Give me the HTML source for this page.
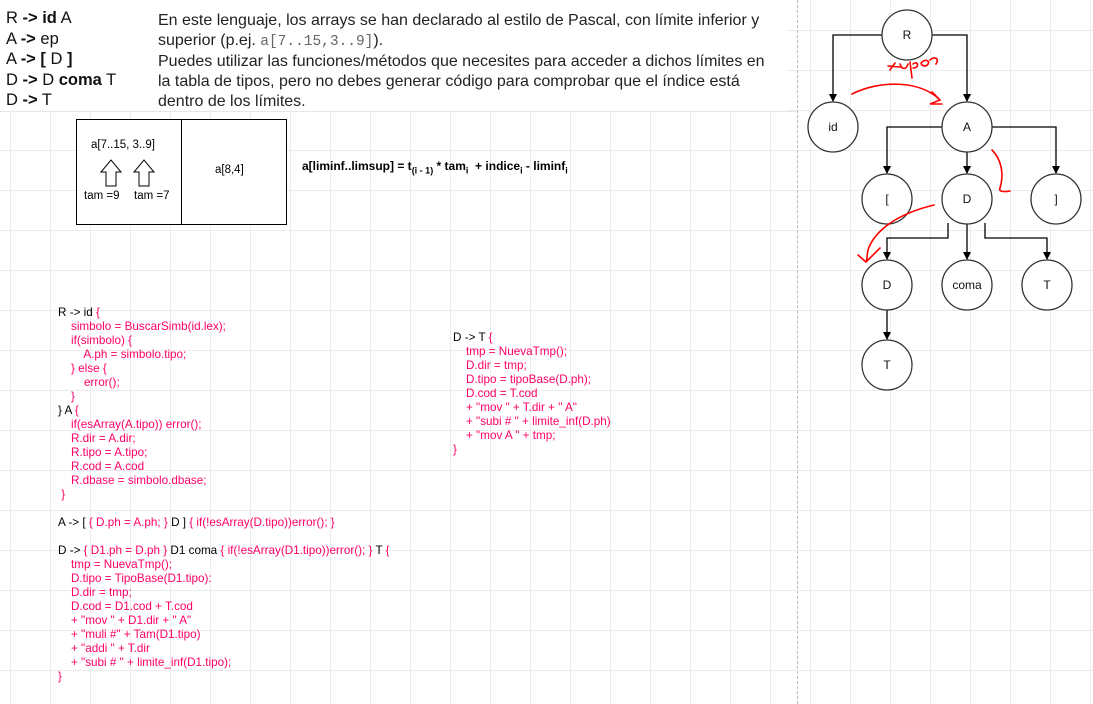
<!DOCTYPE html>
<html><head><meta charset="utf-8"><style>
html,body{margin:0;padding:0;width:1093px;height:704px;overflow:hidden;background:#fff;font-family:"Liberation Sans",Arial,sans-serif;}
.grid{position:absolute;left:0;top:0;width:1093px;height:704px;
background-image:linear-gradient(to right,#ececec 1px,transparent 1px),linear-gradient(to bottom,#ececec 1px,transparent 1px);
background-size:40px 40px;background-position:10px 30px;}
.a{position:absolute;white-space:pre;}
.code{font-size:11.7px;line-height:14px;color:#ff0066;}
.k{color:#000;}
</style></head><body>
<div class="grid"></div>
<div class="a" style="left:0;top:0;width:786px;height:111px;background:#fff"></div>
<div class="a" style="left:0;top:111px;width:798px;border-top:1px solid #e6e6e6"></div>
<div class="a" style="left:797px;top:0;height:704px;border-left:1px dashed #bbb"></div>
<div class="a" style="left:6px;top:8px;font-size:16.5px;line-height:20.5px;color:#111">R <b>-&gt; id</b> A
A <b>-&gt;</b> ep
A <b>-&gt; [</b> D <b>]</b>
D <b>-&gt;</b> D <b>coma</b> T
D <b>-&gt;</b> T</div>
<div class="a" style="left:158px;top:11px;font-size:16px;line-height:20px;color:#222">En este lenguaje, los arrays se han declarado al estilo de Pascal, con límite inferior y
superior (p.ej. <span style="font-family:'Liberation Mono',monospace;color:#666;font-size:14.5px">a[7..15,3..9]</span>).
Puedes utilizar las funciones/métodos que necesites para acceder a dichos límites en
la tabla de tipos, pero no debes generar código para comprobar que el índice está
dentro de los límites.</div>
<div class="a" style="left:76px;top:119px;width:209px;height:104px;border:1px solid #000;background:#fff"></div>
<div class="a" style="left:181px;top:119px;height:105px;border-left:1px solid #000"></div>
<div class="a" style="left:91px;top:139px;font-size:11.5px">a[7..15, 3..9]</div>
<div class="a" style="left:84px;top:190px;font-size:11.5px">tam =9</div>
<div class="a" style="left:134px;top:190px;font-size:11.5px">tam =7</div>
<div class="a" style="left:215px;top:164px;font-size:11.5px">a[8,4]</div>
<svg class="a" style="left:0;top:0" width="300" height="230">
<path d="M106,186 V172 H101 L111,160 L121,172 H116 V186 Z M139,186 V172 H134 L144,160 L154,172 H149 V186 Z" fill="#fff" stroke="#000" stroke-width="1"/>
</svg>
<div class="a" style="left:302px;top:159px;font-size:12px;font-weight:bold">a[liminf..limsup] = t<sub style="font-size:9px">(i - 1)</sub> * tam<sub style="font-size:9px">i</sub>  + indice<sub style="font-size:9px">i</sub> - liminf<sub style="font-size:9px">i</sub></div>
<div class="a code" style="left:58px;top:306px"><span class="k">R -&gt; id</span> {
    simbolo = BuscarSimb(id.lex);
    if(simbolo) {
        A.ph = simbolo.tipo;
    } else {
        error();
    }
<span class="k">}</span> <span class="k">A</span> {
    if(esArray(A.tipo)) error();
    R.dir = A.dir;
    R.tipo = A.tipo;
    R.cod = A.cod
    R.dbase = simbolo.dbase;
 }

<span class="k">A -&gt; [</span> { D.ph = A.ph; } <span class="k">D ]</span> { if(!esArray(D.tipo))error(); }

<span class="k">D -&gt;</span> { D1.ph = D.ph } <span class="k">D1 coma</span> { if(!esArray(D1.tipo))error(); } <span class="k">T</span> {
    tmp = NuevaTmp();
    D.tipo = TipoBase(D1.tipo):
    D.dir = tmp;
    D.cod = D1.cod + T.cod
    + "mov " + D1.dir + " A"
    + "muli #" + Tam(D1.tipo)
    + "addi " + T.dir
    + "subi # " + limite_inf(D1.tipo);
}</div>
<div class="a code" style="left:453px;top:331px"><span class="k">D -&gt; T</span> {
    tmp = NuevaTmp();
    D.dir = tmp;
    D.tipo = tipoBase(D.ph);
    D.cod = T.cod
    + "mov " + T.dir + " A"
    + "subi # " + limite_inf(D.ph)
    + "mov A " + tmp;
}</div>
<svg class="a" style="left:0;top:0" width="1093" height="704">
<defs><marker id="ar" markerWidth="8" markerHeight="8" refX="7" refY="4" orient="auto" markerUnits="userSpaceOnUse"><path d="M0,0 L8,4 L0,8 Z" fill="#000"/></marker></defs>
<g stroke="#000" stroke-width="1.3" fill="none" marker-end="url(#ar)">
<path d="M882,35 H833 V101"/>
<path d="M932,35 H967 V101"/>
<path d="M942,127 H887 V173"/>
<path d="M967,152 V173"/>
<path d="M992,127 H1056 V173"/>
<path d="M948,223 V238 H887 V259"/>
<path d="M967,224 V259"/>
<path d="M985,223 V238 H1047 V259"/>
<path d="M887,310 V339"/>
</g>
<g stroke="#333" stroke-width="1.3" fill="#fff">
<circle cx="907" cy="35" r="25"/><circle cx="833" cy="127" r="25"/><circle cx="967" cy="127" r="25"/>
<circle cx="887" cy="199" r="25"/><circle cx="967" cy="199" r="25"/><circle cx="1056" cy="199" r="25"/>
<circle cx="887" cy="285" r="25"/><circle cx="967" cy="285" r="25"/><circle cx="1047" cy="285" r="25"/>
<circle cx="887" cy="365" r="25"/>
</g>
<g font-family="Liberation Sans,Arial,sans-serif" font-size="12" text-anchor="middle" fill="#111">
<text x="907" y="39">R</text><text x="833" y="131">id</text><text x="967" y="131">A</text>
<text x="887" y="203">[</text><text x="967" y="203">D</text><text x="1056" y="203">]</text>
<text x="887" y="289">D</text><text x="967" y="289">coma</text><text x="1047" y="289">T</text>
<text x="887" y="369">T</text>
</g>
<g stroke="#f00" stroke-width="1.6" fill="none" stroke-linecap="round">
<path d="M852,94 C880,80 920,80 940,100 M932,92 L940,100 L930,104 L942,104"/>
<path d="M890,70 L895,63 M888,66 L900,67 M900,64 C902,70 906,70 908,64 M910,62 L912,78 M913,64 C918,60 920,68 913,68 M922,62 C926,58 932,62 926,66 C922,66 920,64 922,62 M930,60 C934,56 940,58 936,64"/>
<path d="M992,150 C1002,160 1004,175 1000,188 C998,192 1005,192 1010,191"/>
<path d="M934,205 C905,212 880,225 870,245 C866,252 868,258 866,262 M858,255 L866,262 L880,248"/>
</g>
</svg>
</body></html>
